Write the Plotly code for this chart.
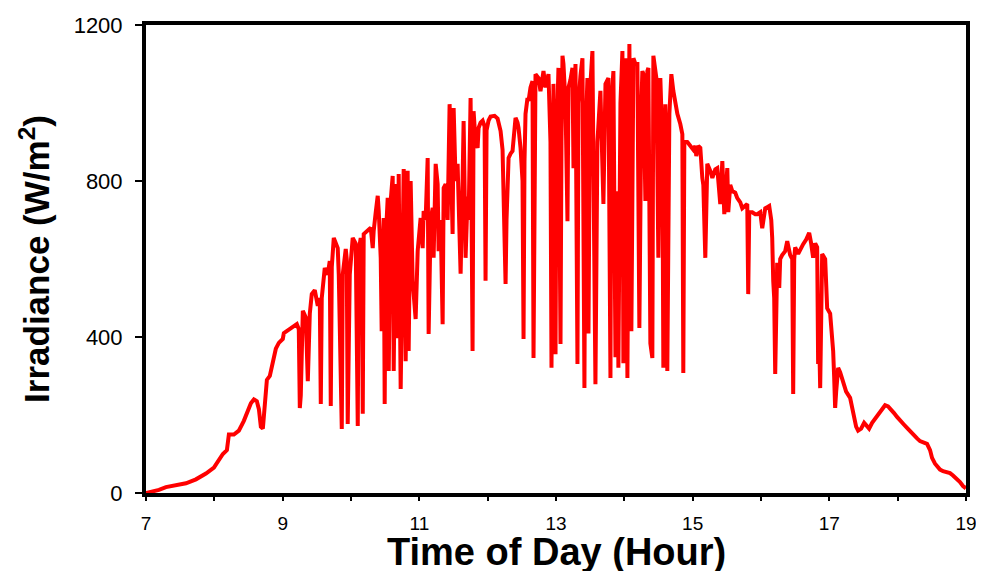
import plotly.graph_objects as go

# Time of day (hours) and irradiance (W/m^2)
hours = [
    7.000, 7.073, 7.190, 7.292, 7.438, 7.585, 7.731, 7.877, 7.994, 8.067,
    8.125, 8.184, 8.213, 8.286, 8.359, 8.432, 8.491, 8.535, 8.579, 8.622,
    8.652, 8.681, 8.710, 8.739, 8.769, 8.812, 8.856, 8.900, 8.944, 9.002,
    9.017, 9.090, 9.163, 9.207, 9.236, 9.251, 9.265, 9.295, 9.339, 9.368,
    9.397, 9.426, 9.470, 9.514, 9.543, 9.558, 9.572, 9.616, 9.660, 9.689,
    9.704, 9.719, 9.748, 9.777, 9.806, 9.821, 9.865, 9.879, 9.923, 9.938,
    9.952, 9.982, 10.025, 10.069, 10.099, 10.113, 10.142, 10.157, 10.172, 10.186,
    10.230, 10.289, 10.318, 10.332, 10.362, 10.391, 10.406, 10.435, 10.449, 10.464,
    10.479, 10.493, 10.508, 10.537, 10.552, 10.581, 10.610, 10.625, 10.654, 10.683,
    10.698, 10.727, 10.756, 10.771, 10.800, 10.815, 10.829, 10.844, 10.873, 10.902,
    10.946, 10.976, 11.019, 11.049, 11.063, 11.092, 11.122, 11.136, 11.166, 11.195,
    11.209, 11.239, 11.268, 11.282, 11.312, 11.341, 11.356, 11.385, 11.414, 11.443,
    11.472, 11.487, 11.502, 11.531, 11.560, 11.589, 11.604, 11.633, 11.648, 11.677,
    11.706, 11.721, 11.750, 11.765, 11.779, 11.794, 11.823, 11.853, 11.867, 11.896,
    11.926, 11.955, 11.969, 11.984, 12.013, 12.043, 12.101, 12.145, 12.189, 12.218,
    12.247, 12.262, 12.276, 12.306, 12.335, 12.364, 12.408, 12.437, 12.452, 12.481,
    12.510, 12.525, 12.539, 12.554, 12.583, 12.598, 12.627, 12.656, 12.671, 12.686,
    12.700, 12.744, 12.773, 12.817, 12.846, 12.890, 12.919, 12.934, 12.949, 12.963,
    12.993, 13.007, 13.036, 13.066, 13.080, 13.095, 13.109, 13.139, 13.168, 13.183,
    13.212, 13.241, 13.256, 13.285, 13.314, 13.329, 13.358, 13.387, 13.416, 13.431,
    13.460, 13.475, 13.490, 13.504, 13.533, 13.577, 13.606, 13.650, 13.694, 13.724,
    13.767, 13.797, 13.811, 13.840, 13.870, 13.899, 13.913, 13.943, 13.972, 13.986,
    14.016, 14.045, 14.074, 14.103, 14.133, 14.162, 14.191, 14.220, 14.250, 14.264,
    14.279, 14.308, 14.337, 14.352, 14.381, 14.410, 14.425, 14.469, 14.498, 14.527,
    14.556, 14.571, 14.600, 14.629, 14.659, 14.688, 14.717, 14.746, 14.776, 14.819,
    14.849, 14.863, 14.878, 14.922, 14.966, 15.010, 15.039, 15.053, 15.083, 15.112,
    15.141, 15.156, 15.185, 15.214, 15.258, 15.288, 15.331, 15.360, 15.404, 15.434,
    15.463, 15.507, 15.521, 15.550, 15.580, 15.623, 15.653, 15.697, 15.726, 15.770,
    15.799, 15.813, 15.828, 15.872, 15.916, 15.945, 15.989, 16.018, 16.047, 16.062,
    16.091, 16.120, 16.150, 16.164, 16.179, 16.193, 16.208, 16.223, 16.237, 16.267,
    16.281, 16.310, 16.354, 16.384, 16.427, 16.457, 16.471, 16.486, 16.500, 16.544,
    16.573, 16.617, 16.661, 16.705, 16.734, 16.763, 16.793, 16.822, 16.836, 16.851,
    16.866, 16.880, 16.895, 16.939, 16.968, 17.012, 17.041, 17.056, 17.070, 17.085,
    17.100, 17.129, 17.158, 17.202, 17.246, 17.304, 17.348, 17.392, 17.421, 17.465,
    17.509, 17.538, 17.582, 17.626, 17.670, 17.713, 17.772, 17.816, 17.860, 17.904,
    17.947, 17.991, 18.035, 18.094, 18.137, 18.181, 18.225, 18.284, 18.327, 18.386,
    18.430, 18.474, 18.503, 18.547, 18.576, 18.620, 18.664, 18.722, 18.766, 18.810,
    18.868, 18.912, 18.956, 19.000,
]

irradiance = [
    0, 3, 8, 15, 20, 25, 35, 50, 65, 85,
    100, 110, 150, 150, 160, 185, 215, 230, 240, 235,
    215, 170, 165, 230, 290, 300, 340, 370, 385, 395,
    410, 420, 430, 433, 420, 218, 250, 467, 450, 287,
    460, 510, 520, 480, 500, 228, 500, 577, 560, 595,
    223, 580, 654, 640, 628, 560, 164, 560, 626, 600,
    177, 560, 654, 640, 172, 620, 654, 640, 203, 664,
    670, 680, 628, 672, 720, 762, 723, 603, 415, 600,
    705, 228, 650, 757, 313, 750, 813, 313, 792, 397,
    818, 267, 780, 831, 338, 780, 826, 364, 800, 544,
    446, 621, 705, 628, 723, 700, 859, 408, 700, 731,
    603, 844, 792, 620, 700, 433, 782, 792, 700, 997,
    700, 664, 987, 800, 844, 700, 562, 800, 954, 603,
    760, 700, 1013, 700, 364, 979, 900, 885, 936, 950,
    955, 940, 544, 930, 955, 965, 967, 960, 928, 880,
    700, 536, 700, 859, 870, 877, 962, 950, 936, 885,
    800, 395, 850, 972, 1013, 1005, 1040, 1056, 346, 700,
    1074, 1064, 1030, 1082, 1040, 1074, 900, 321, 900, 1049,
    356, 900, 1090, 382, 900, 1121, 1100, 1000, 697, 1040,
    1060, 1090, 833, 1100, 331, 1000, 1070, 1115, 269, 900,
    1064, 409, 800, 1050, 1133, 279, 900, 1031, 741, 1049,
    1064, 295, 1000, 1082, 348, 774, 321, 1000, 1133, 333,
    1115, 295, 1151, 415, 1115, 1100, 1100, 423, 1000, 1082,
    1074, 749, 1082, 1090, 384, 346, 1121, 1064, 603, 1064,
    900, 321, 997, 313, 972, 1074, 1031, 1000, 972, 946,
    920, 308, 902, 900, 890, 880, 890, 864, 890, 885,
    808, 790, 603, 844, 826, 808, 830, 833, 741, 851,
    715, 833, 720, 790, 774, 770, 756, 745, 730, 735,
    741, 510, 720, 720, 715, 715, 720, 679, 720, 730,
    733, 736, 700, 654, 544, 500, 305, 500, 590, 526,
    600, 610, 620, 646, 610, 600, 254, 600, 630, 613,
    625, 638, 650, 667, 640, 603, 640, 630, 331, 400,
    269, 500, 613, 600, 474, 460, 400, 364, 300, 218,
    260, 321, 310, 287, 260, 244, 200, 170, 160, 165,
    180, 175, 165, 180, 190, 200, 215, 225, 222, 215,
    205, 195, 185, 175, 167, 158, 151, 140, 133, 130,
    126, 110, 90, 75, 69, 60, 56, 53, 51, 45,
    36, 28, 18, 12,
]

x_tickvals = [7, 9, 11, 13, 15, 17, 19]
x_ticktext = ["7", "9", "11", "13", "15", "17", "19"]
y_tickvals = [0, 400, 800, 1200]
y_ticktext = ["0", "400", "800", "1200"]
x_title = "<b>Time of Day (Hour)</b>"
y_title = "<b>Irradiance (W/m<sup>2</sup>)</b>"

FONT = "Liberation Sans, Arial, Helvetica, sans-serif"

fig = go.Figure()
fig.add_trace(go.Scatter(
    x=hours, y=irradiance, mode="lines",
    line=dict(color="#ff0000", width=4),
    showlegend=False,
))

# page body has an 8px margin, so the figure is sized to fit the window
fig.update_layout(
    width=968, height=563,
    margin=dict(l=138, r=10, t=17, b=78, autoexpand=False),
    paper_bgcolor="white", plot_bgcolor="white",
    font=dict(family=FONT, color="black"),
)

fig.update_xaxes(
    range=[7, 19], tickmode="array", tickvals=x_tickvals, ticktext=x_ticktext,
    ticks="outside", ticklen=4, tickwidth=1.5, tickcolor="black",
    minor=dict(tickmode="linear", tick0=7, dtick=1, ticks="outside",
               ticklen=4, tickwidth=1.5, tickcolor="black", showgrid=False),
    ticklabelstandoff=6, ticklabeloverflow="allow",
    showline=True, linewidth=4, linecolor="black", mirror=True,
    showgrid=False, zeroline=False, automargin=False,
    tickfont=dict(family=FONT, size=19, color="black"),
)
fig.update_yaxes(
    range=[0, 1200], tickmode="array", tickvals=y_tickvals, ticktext=y_ticktext,
    ticks="outside", ticklen=7, tickwidth=1.5, tickcolor="black",
    ticklabelstandoff=8, ticklabeloverflow="allow",
    showline=True, linewidth=4, linecolor="black", mirror=True,
    showgrid=False, zeroline=False, automargin=False,
    tickfont=dict(family=FONT, size=22, color="black"),
    title=dict(text=y_title,
               font=dict(family=FONT, size=35, color="black"), standoff=14),
)

# x-axis title placed low, as in the reference
fig.add_annotation(
    text=x_title, xref="paper", yref="paper", x=0.5, y=0,
    xanchor="center", yanchor="top", yshift=-36, showarrow=False,
    font=dict(family=FONT, size=38, color="black"),
)

fig.write_html("out.html")
